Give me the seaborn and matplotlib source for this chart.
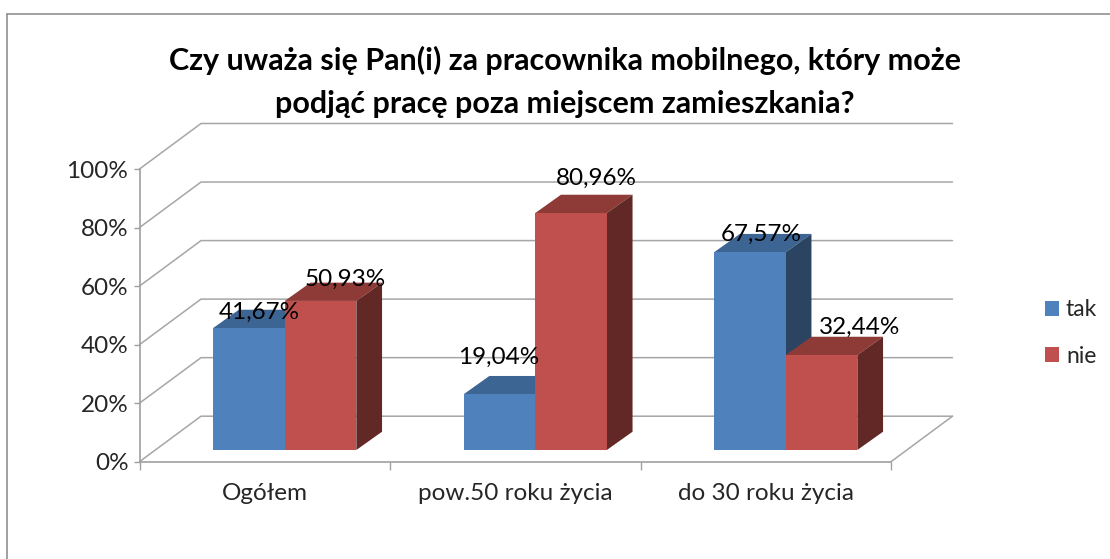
import matplotlib
matplotlib.use("Agg")
import matplotlib.pyplot as plt
import pandas as pd
import seaborn as sns
from matplotlib.lines import Line2D
from matplotlib.patches import Polygon

# values
categories = ["Ogółem", "pow.50 roku życia", "do 30 roku życia"]
tak = [41.67, 19.04, 67.57]
nie = [50.93, 80.96, 32.44]
series_names = ["tak", "nie"]
y_ticks = [0, 20, 40, 60, 80, 100]
title = ("Czy uważa się Pan(i) za pracownika mobilnego, który może\n"
         "podjąć pracę poza miejscem zamieszkania?")

W, H = 1110, 559

sns.set_theme(style="white")
plt.rcParams["font.family"] = ["Lato", "DejaVu Sans"]

data = pd.DataFrame({
    "kategoria": categories * 2,
    "seria": ["tak"] * 3 + ["nie"] * 3,
    "procent": tak + nie,
})

fig = plt.figure(figsize=(W / 100, H / 100), dpi=100, facecolor="white")


def px_axes(left, top, right, bottom):
    return fig.add_axes([left / W, 1 - bottom / H, (right - left) / W, (bottom - top) / H])


# chart frame, only top and left show up in the picture
grey = "#868686"
fig.add_artist(Line2D([7 / W, 1], [1 - 13.5 / H] * 2, color=grey, lw=1.1))
fig.add_artist(Line2D([7 / W] * 2, [1 - 13.5 / H, 0], color=grey, lw=1.1))

fig.text(565 / W, 1 - 82 / H, title, ha="center", va="center", fontsize=22,
         fontweight="bold", color="black", linespacing=1.68)

# front plane of the box, holds the axes and the walls
ax = px_axes(139.5, 169, 891, 461.7)
ax.set_xlim(-0.5, 2.5)
ax.set_ylim(0, 100)
ax.patch.set_alpha(0)
for s in ["top", "right"]:
    ax.spines[s].set_visible(False)
for s in ["left", "bottom"]:
    ax.spines[s].set_color("#a0a0a0")
    ax.spines[s].set_linewidth(1.2)

ax.set_yticks(y_ticks)
ax.set_yticklabels([f"{t}%" for t in y_ticks])
ax.set_xticks(range(3))
ax.set_xticklabels(categories)
ax.set_xticks([-0.5, 0.5, 1.5, 2.5], minor=True)
ax.tick_params(axis="y", length=4, width=1, color="#a0a0a0", labelsize=17.5, pad=4, left=True)
ax.tick_params(axis="x", which="major", length=0, labelsize=17.5, pad=15, bottom=False)
ax.tick_params(axis="x", which="minor", length=6, width=1, color="#a0a0a0", bottom=True)

# walls: diagonal from each tick back to the rear wall, then along it
wall_dx = 61.5 / (751.5 / 3)
wall_dy = 45.5 / (292.7 / 100)
for t in y_ticks:
    ax.plot([-0.5, -0.5 + wall_dx, 2.5 + wall_dx], [t, t + wall_dy, t + wall_dy],
            color="#a6a6a6", lw=1.1, clip_on=False, zorder=1)
ax.plot([2.5, 2.5 + wall_dx], [0, wall_dy], color="#a6a6a6", lw=1.1, clip_on=False, zorder=1)

# bars stand a bit inside the box, so they get their own shifted axes
bars = px_axes(139.5 + 20, 169 - 11.7, 891 + 20, 461.7 - 11.7)
sns.barplot(data=data, x="kategoria", y="procent", hue="seria", hue_order=series_names,
            order=categories, palette=["#4F81BD", "#C0504D"], width=0.5716, gap=0,
            saturation=1, ax=bars, zorder=3, linewidth=0)
bars.set_xlim(-0.5, 2.5)
bars.set_ylim(0, 100)
bars.patch.set_alpha(0)
bars.axis("off")

depth_x = 25.7 / (751.5 / 3)
depth_y = 18.3 / (292.7 / 100)
face_colors = [("#3D6594", "#2A4462"), ("#8E3B38", "#622826")]
# where each label sits relative to the top middle of its bar, in px
label_shift = [[(10, 16), (-1, 37), (11, 18)], [(25, 22), (25, 35), (38, 28)]]

for i, container in enumerate(bars.containers):
    top_color, side_color = face_colors[i]
    for j, rect in enumerate(container):
        x0, x1, h = rect.get_x(), rect.get_x() + rect.get_width(), rect.get_height()
        bars.add_patch(Polygon([(x0, h), (x0 + depth_x, h + depth_y), (x1 + depth_x, h + depth_y), (x1, h)],
                               facecolor=top_color, edgecolor="none", zorder=1 + i * 0.5, clip_on=False))
        bars.add_patch(Polygon([(x1, 0), (x1 + depth_x, depth_y), (x1 + depth_x, h + depth_y), (x1, h)],
                               facecolor=side_color, edgecolor="none", zorder=1 + i * 0.5, clip_on=False))
        bars.annotate(f"{h:.2f}".replace(".", ",") + "%", ((x0 + x1) / 2, h),
                      xytext=(label_shift[i][j][0] * 0.72, label_shift[i][j][1] * 0.72),
                      textcoords="offset points", ha="center", va="center",
                      fontsize=17.5, color="black", zorder=6)

sns.move_legend(bars, "center left", bbox_to_anchor=(1024.5 / W, 1 - 333 / H),
                bbox_transform=fig.transFigure, frameon=False, title=None,
                fontsize=16.5, handlelength=0.61, handleheight=0.61, handletextpad=0.3,
                labelspacing=1.1)

fig.savefig("out.png", dpi=100, facecolor="white")
